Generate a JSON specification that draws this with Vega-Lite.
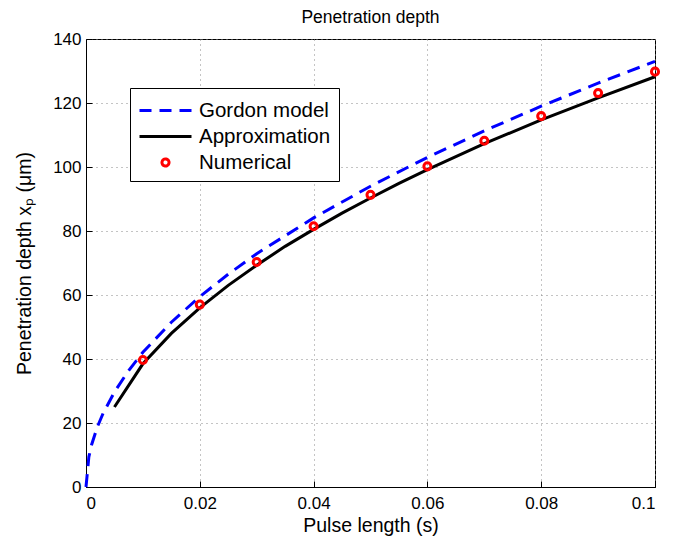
{
  "$schema": "https://vega.github.io/schema/vega-lite/v6.json",
  "width": 569,
  "height": 448,
  "padding": {"left": 14, "top": 8, "right": 5, "bottom": 5},
  "background": "white",
  "config": {
    "font": "Liberation Sans",
    "view": {"stroke": "black", "strokeWidth": 1},
    "axis": {"labelFont": "Liberation Sans", "titleFont": "Liberation Sans", "labelFontSize": 17, "titleFontSize": 19.5, "titleFontWeight": "normal", "labelColor": "black", "titleColor": "black", "domainColor": "black", "tickColor": "black", "gridColor": "#888", "gridDash": [1, 4], "gridOpacity": 1, "tickSize": -6}
  },
  "title": {"text": "Penetration depth", "fontSize": 17.5, "fontWeight": "normal", "font": "Liberation Sans", "color": "black", "offset": 4},
  "data": {"values": [
    {"series": "Gordon model", "t": 0, "d": 0},
    {"series": "Gordon model", "t": 0.0005, "d": 9.4},
    {"series": "Gordon model", "t": 0.001, "d": 13.3},
    {"series": "Gordon model", "t": 0.002, "d": 18.8},
    {"series": "Gordon model", "t": 0.003, "d": 23.0},
    {"series": "Gordon model", "t": 0.005, "d": 29.7},
    {"series": "Gordon model", "t": 0.0075, "d": 36.4},
    {"series": "Gordon model", "t": 0.01, "d": 42.1},
    {"series": "Gordon model", "t": 0.015, "d": 51.5},
    {"series": "Gordon model", "t": 0.02, "d": 59.5},
    {"series": "Gordon model", "t": 0.025, "d": 66.5},
    {"series": "Gordon model", "t": 0.03, "d": 72.9},
    {"series": "Gordon model", "t": 0.04, "d": 84.1},
    {"series": "Gordon model", "t": 0.05, "d": 94.0},
    {"series": "Gordon model", "t": 0.06, "d": 103.0},
    {"series": "Gordon model", "t": 0.07, "d": 111.3},
    {"series": "Gordon model", "t": 0.08, "d": 119.0},
    {"series": "Gordon model", "t": 0.09, "d": 126.2},
    {"series": "Gordon model", "t": 0.1, "d": 133.0},
    {"series": "Approximation", "t": 0.005, "d": 25.0},
    {"series": "Approximation", "t": 0.01, "d": 38.5},
    {"series": "Approximation", "t": 0.015, "d": 48.0},
    {"series": "Approximation", "t": 0.02, "d": 56.0},
    {"series": "Approximation", "t": 0.025, "d": 63.0},
    {"series": "Approximation", "t": 0.03, "d": 69.3},
    {"series": "Approximation", "t": 0.035, "d": 75.2},
    {"series": "Approximation", "t": 0.04, "d": 80.5},
    {"series": "Approximation", "t": 0.045, "d": 85.6},
    {"series": "Approximation", "t": 0.05, "d": 90.3},
    {"series": "Approximation", "t": 0.055, "d": 94.9},
    {"series": "Approximation", "t": 0.06, "d": 99.2},
    {"series": "Approximation", "t": 0.07, "d": 107.3},
    {"series": "Approximation", "t": 0.08, "d": 114.7},
    {"series": "Approximation", "t": 0.09, "d": 121.6},
    {"series": "Approximation", "t": 0.1, "d": 128.2},
    {"series": "Numerical", "t": 0.01, "d": 39.7},
    {"series": "Numerical", "t": 0.02, "d": 57.0},
    {"series": "Numerical", "t": 0.03, "d": 70.3},
    {"series": "Numerical", "t": 0.04, "d": 81.5},
    {"series": "Numerical", "t": 0.05, "d": 91.3},
    {"series": "Numerical", "t": 0.06, "d": 100.2},
    {"series": "Numerical", "t": 0.07, "d": 108.2},
    {"series": "Numerical", "t": 0.08, "d": 115.9},
    {"series": "Numerical", "t": 0.09, "d": 123.1},
    {"series": "Numerical", "t": 0.1, "d": 129.8}
  ]},
  "encoding": {
    "x": {"field": "t", "type": "quantitative", "title": "Pulse length (s)", "scale": {"domain": [0, 0.1], "nice": false}, "axis": {"values": [0, 0.02, 0.04, 0.06, 0.08, 0.1], "format": "~g", "labelPadding": 14, "titlePadding": 5}},
    "y": {"field": "d", "type": "quantitative", "title": "Penetration depth xₚ (μm)", "scale": {"domain": [0, 140], "nice": false}, "axis": {"values": [0, 20, 40, 60, 80, 100, 120, 140], "labelPadding": 11, "titlePadding": 18}},
    "color": {"field": "series", "type": "nominal", "scale": {"domain": ["Gordon model", "Approximation", "Numerical"], "range": ["#0000ff", "#000000", "#ff0000"]},
      "legend": {"title": null, "orient": "none", "legendX": 44, "legendY": 49, "strokeColor": "black", "fillColor": "white", "padding": 8, "labelFontSize": 20.5, "labelFont": "Liberation Sans", "labelColor": "black", "rowPadding": 1, "labelOffset": 19, "symbolOffset": 13, "symbolStrokeWidth": 3, "symbolSize": 676,
        "encode": {"symbols": {"update": {
          "shape": {"signal": "datum.value == 'Numerical' ? 'circle' : 'M-2,0H2'"},
          "size": {"signal": "datum.value == 'Numerical' ? 50 : 676"},
          "strokeDash": {"signal": "datum.value == 'Gordon model' ? [12,8] : [1,0]"},
          "fill": {"value": "transparent"},
          "stroke": {"signal": "datum.value == 'Gordon model' ? '#0000ff' : (datum.value == 'Numerical' ? '#ff0000' : '#000000')"},
          "strokeWidth": {"value": 3}
        }}}}
    }
  },
  "layer": [
    {"transform": [{"filter": "datum.series == 'Gordon model'"}], "mark": {"type": "line", "strokeWidth": 3, "strokeDash": [13, 8]}},
    {"transform": [{"filter": "datum.series == 'Approximation'"}], "mark": {"type": "line", "strokeWidth": 3}},
    {"transform": [{"filter": "datum.series == 'Numerical'"}], "mark": {"type": "point", "filled": false, "strokeWidth": 3, "size": 50, "opacity": 1}}
  ]
}
